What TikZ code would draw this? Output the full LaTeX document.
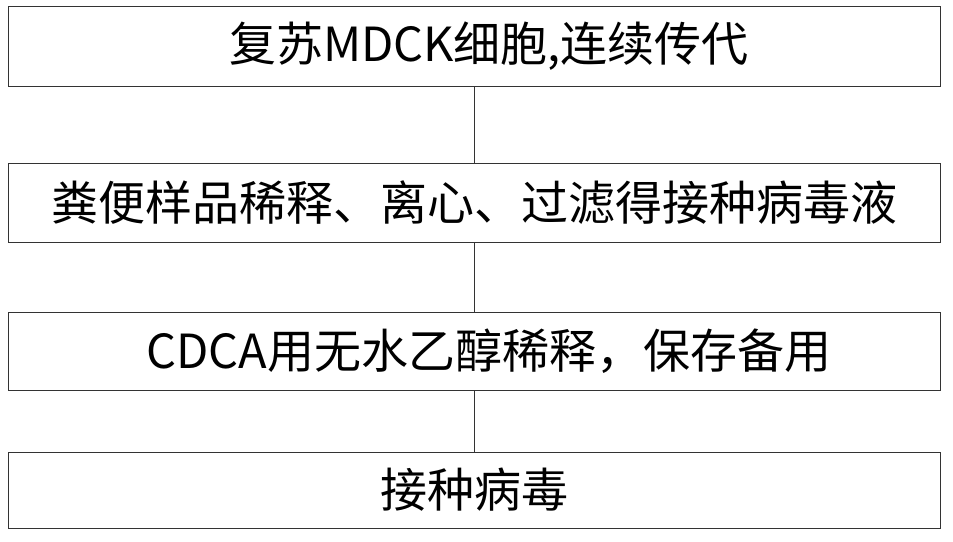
\documentclass[tikz,border=0pt]{standalone}
\usepackage{fontspec}
\newfontfamily\cjk{Noto Sans CJK SC}
\begin{document}
\begin{tikzpicture}[x=1pt,y=-1pt,
  stepbox/.style={draw=black!80,line width=0.8pt,minimum width=932pt,inner sep=0pt,font=\cjk\fontsize{47}{52}\selectfont},
  link/.style={draw=black!80,line width=0.8pt}]
\useasboundingbox (0,0) rectangle (953,541);
\node[stepbox,minimum height=80pt] (a) at (474,46) {\hspace*{30pt}复苏MDCK细胞,连续传代};
\node[stepbox,minimum height=79pt] (b) at (474,202.5) {粪便样品稀释、离心、过滤得接种病毒液};
\node[stepbox,minimum height=78pt] (c) at (474,351) {\hspace*{30pt}CDCA用无水乙醇稀释，保存备用};
\node[stepbox,minimum height=76pt] (d) at (474,490) {接种病毒};
\draw[link] (a) -- (b);
\draw[link] (b) -- (c);
\draw[link] (c) -- (d);
\end{tikzpicture}
\end{document}
